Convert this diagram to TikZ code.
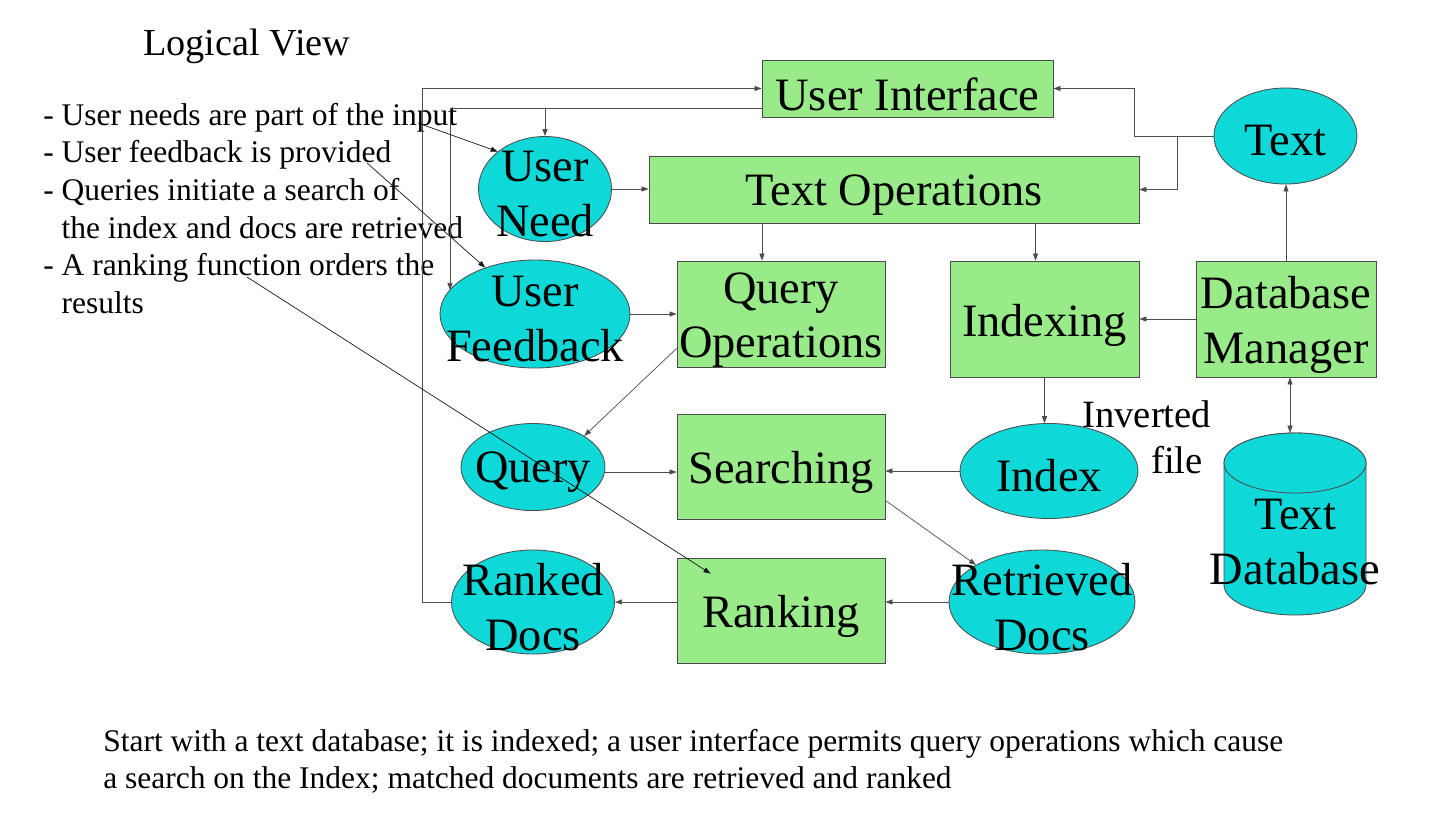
\documentclass[tikz,border=0pt]{standalone}
\usepackage{fontspec}
\setmainfont{Liberation Serif}
\usepackage{xcolor}
\usetikzlibrary{arrows.meta, positioning, shapes.geometric}

\definecolor{boxgreen}{RGB}{152,235,136}
\definecolor{ovalcyan}{RGB}{15,216,216}
\newcommand{\pxu}{0.025cm}

\begin{document}
\begin{tikzpicture}[x=\pxu, y=-\pxu, >={Triangle[length=5pt,width=3.6pt]},
    procbox/.style={rectangle, draw=black!70, line width=0.6pt, fill=boxgreen, inner sep=0pt},
    dataoval/.style={ellipse, draw=black!70, line width=0.6pt, fill=ovalcyan, inner sep=0pt},
    textlabel/.style={inner sep=0pt, align=center, font=\fontsize{33}{39}\selectfont},
    boxtext/.style={textlabel, yshift=-6*\pxu},
    ovaltext/.style={textlabel, yshift=-5*\pxu},
    link/.style={draw=black!70, line width=0.5pt, ->},
    notelink/.style={draw=black!90, line width=0.5pt, ->}
]
    \fill[white] (0,0) rectangle (1444,818);
    \useasboundingbox (0,0) rectangle (1444,818);

    % texts (multi-line nodes sit on their last baseline)
    \node[anchor=base west, inner sep=0pt, font=\fontsize{27.2}{33}\selectfont] (title) at (143,55) {Logical View};
    \node[anchor=base west, align=left, inner sep=0pt, font=\fontsize{22.4}{26.8}\selectfont] (notes) at (43,313.5) {
        - User needs are part of the input\\
        - User feedback is provided\\
        - Queries initiate a search of\\
        \phantom{- }the index and docs are retrieved\\
        - A ranking function orders the\\
        \phantom{- }results
    };
    \node[anchor=base west, align=left, inner sep=0pt, font=\fontsize{22.4}{26.3}\selectfont] (summary) at (103,788) {
        Start with a text database; it is indexed; a user interface permits query operations which cause\\
        a search on the Index; matched documents are retrieved and ranked
    };
    \node[anchor=base west, align=left, inner sep=0pt, font=\fontsize{27.5}{32.7}\selectfont] (invfile) at (1082,473) {
        Inverted\\
        \hspace*{49pt}file
    };
    \coordinate (inputpt) at (418,123);
    \coordinate (providedpt) at (367,163);
    \coordinate (functionpt) at (247,277);

    % boxes
    \node[procbox, minimum width=291*\pxu, minimum height=57*\pxu,
        label={[boxtext]center:User Interface}] (ui) at (907.5,88.5) {};
    \node[procbox, minimum width=490*\pxu, minimum height=67*\pxu,
        label={[boxtext]center:Text Operations}] (textops) at (894,189.5) {};
    \node[procbox, minimum width=208*\pxu, minimum height=106*\pxu,
        label={[boxtext]center:Query\\Operations}] (queryops) at (781,314) {};
    \node[procbox, minimum width=189*\pxu, minimum height=116*\pxu,
        label={[boxtext]center:Indexing}] (indexing) at (1044.5,319) {};
    \node[procbox, minimum width=180*\pxu, minimum height=116*\pxu,
        label={[boxtext]center:Database\\Manager}] (dbm) at (1286,319) {};
    \node[procbox, minimum width=208*\pxu, minimum height=105*\pxu,
        label={[boxtext]center:Searching}] (searching) at (781,466.5) {};
    \node[procbox, minimum width=208*\pxu, minimum height=105*\pxu,
        label={[boxtext]center:Ranking}] (ranking) at (781,610.5) {};

    % ovals
    \node[dataoval, minimum width=133*\pxu, minimum height=105*\pxu,
        label={[ovaltext]center:User\\Need}] (need) at (545,189) {};
    \node[dataoval, minimum width=190*\pxu, minimum height=108*\pxu,
        label={[ovaltext]center:User\\Feedback}] (feedback) at (535,314) {};
    \node[dataoval, minimum width=143*\pxu, minimum height=96*\pxu,
        label={[ovaltext]center:Text}] (text) at (1285.5,136) {};
    \node[dataoval, minimum width=144*\pxu, minimum height=87*\pxu,
        label={[ovaltext]center:Query}] (query) at (533,467) {};
    \node[dataoval, minimum width=178*\pxu, minimum height=95*\pxu,
        label={[ovaltext]center:Index}] (index) at (1049,471) {};
    \node[dataoval, minimum width=163*\pxu, minimum height=104*\pxu,
        label={[ovaltext]center:Ranked\\Docs}] (ranked) at (533,602) {};
    \node[dataoval, minimum width=186*\pxu, minimum height=104*\pxu,
        label={[ovaltext]center:Retrieved\\Docs}] (retrieved) at (1042,602) {};

    % text database drum
    \draw[draw=black!70, line width=0.6pt, fill=ovalcyan] (1224,463) -- (1224,585)
        arc[start angle=180, end angle=360, x radius=71*\pxu, y radius=30*\pxu] -- (1366,463)
        arc[start angle=0, end angle=180, x radius=71*\pxu, y radius=30*\pxu] -- cycle;
    \draw[draw=black!70, line width=0.6pt, fill=ovalcyan] (1295,463) ellipse [x radius=71*\pxu, y radius=30*\pxu];
    \node[inner sep=0pt, minimum width=142*\pxu, minimum height=182*\pxu,
        label={[textlabel, yshift=-18*\pxu]center:Text\\Database}] (textdb) at (1295,524) {};

    % loops back to the user interface
    \draw[link] (ranked.west) -- ++(-29,0) |- (ui.west);
    \coordinate (uibus) at ([yshift=9*\pxu]ui.south west);
    \coordinate (fbin) at (450,290);
    \draw[link] (uibus) -| (fbin);
    \draw[link] (uibus -| need.north) -- (need.north);
    \draw[link] (text.west) -- ++(-79,0) |- (ui.east);
    \draw[link] (text.west) ++(-36,0) |- (textops.east);

    % flow
    \coordinate (qin) at ([xshift=-19*\pxu]queryops.north);
    \coordinate (ixin) at ([xshift=-9*\pxu]indexing.north);
    \coordinate (dbin) at ([xshift=4*\pxu]dbm.south);
    \coordinate (qout) at ([yshift=-5*\pxu]query.east);
    \draw[link] (need.east) -- (need.east -| textops.west);
    \draw[link] (qin |- textops.south) -- (qin);
    \draw[link] (ixin |- textops.south) -- (ixin);
    \draw[link] (indexing.south) -- (indexing.south |- index.north);
    \draw[link] (dbm.north) -- (dbm.north |- text.south);
    \draw[link] (dbm.west) -- (indexing.east);
    \draw[link, <->] (dbin) -- (dbin |- textdb.north);
    \draw[link] (feedback.east) -- (feedback.east -| queryops.west);
    \draw[link] ([yshift=19*\pxu]queryops.south west) -- (query.north east);
    \draw[link] (qout) -- (qout -| searching.west);
    \draw[link] (index.west) -- (index.west -| searching.east);
    \draw[link] ([yshift=19*\pxu]searching.south east) -- (retrieved.north west);
    \draw[link] (retrieved.west) -- (retrieved.west -| ranking.east);
    \draw[link] (ranking.west |- ranked.east) -- (ranked.east);

    % pointers from the notes
    \coordinate (rankin) at ([xshift=34*\pxu, yshift=-16*\pxu]ranking.north west);
    \draw[notelink] (inputpt) -- (need.north west);
    \draw[notelink] (providedpt) -- (feedback.137);
    \draw[notelink] (functionpt) -- (rankin);
\end{tikzpicture}
\end{document}
